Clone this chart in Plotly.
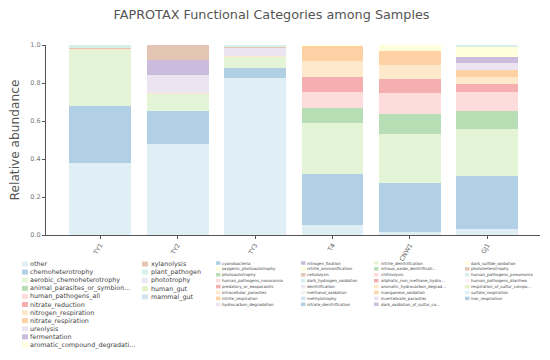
import plotly.graph_objects as go

samples = ["TY1", "TY2", "TY3", "T4", "CNW1", "GJ1"]

categories = [
    "other", "chemoheterotrophy", "aerobic_chemoheterotrophy", "animal_parasites_or_symbion...",
    "human_pathogens_all", "nitrate_reduction", "nitrogen_respiration", "nitrate_respiration",
    "ureolysis", "fermentation", "aromatic_compound_degradati...",
    "xylanolysis", "plant_pathogen", "phototrophy", "human_gut", "mammal_gut",
    "cyanobacteria", "oxygenic_photoautotrophy", "photoautotrophy", "human_pathogens_nosocomia",
    "predatory_or_exoparasitic", "intracellular_parasites", "nitrite_respiration", "hydrocarbon_degradation",
    "nitrogen_fixation", "nitrite_ammonification", "cellulolysis", "dark_hydrogen_oxidation",
    "denitrification", "methanol_oxidation", "methylotrophy", "nitrate_denitrification",
    "nitrite_denitrification", "nitrous_oxide_denitrificati...", "chitinolysis", "aliphatic_non_methane_hydro...",
    "aromatic_hydrocarbon_degrad...", "manganese_oxidation", "invertebrate_parasites", "dark_oxidation_of_sulfur_co...",
    "dark_sulfide_oxidation", "photoheterotrophy", "human_pathogens_pneumonia", "human_pathogens_diarrhea",
    "respiration_of_sulfur_compo...", "sulfate_respiration", "iron_respiration",
]

# relative abundance per sample, in category order (remaining categories are ~0)
TY1 = [0.380, 0.299, 0.298, 0, 0, 0, 0.003, 0, 0, 0, 0, 0.004, 0.016]
TY2 = [0.479, 0.174, 0.093, 0, 0, 0, 0.004, 0, 0.090, 0.081, 0, 0.079]
TY3 = [0.825, 0.056, 0.058, 0, 0, 0, 0.004, 0, 0.045, 0, 0, 0.002, 0.010]
T4 = [0.053, 0.266, 0.269, 0.080, 0.083, 0.082, 0.083, 0.080, 0, 0, 0.002]
CNW1 = [0.014, 0.258, 0.260, 0.107, 0.107, 0.073, 0.074, 0.074, 0, 0, 0.033]
GJ1 = [0.033, 0.278, 0.245, 0.098, 0.097, 0.044, 0.038, 0.037, 0.035, 0.030, 0.056, 0, 0.009]

sample_values = [TY1, TY2, TY3, T4, CNW1, GJ1]

base = ["#a6cee3", "#1f78b4", "#b2df8a", "#33a02c", "#fb9a99", "#e31a1c", "#fdbf6f", "#ff7f00",
        "#cab2d6", "#6a3d9a", "#ffff99", "#b15928",
        "#8dd3c7", "#bebada", "#b3de69", "#80b1d3",
        "#1f78b4", "#ffff99", "#33a02c", "#fb9a99", "#e31a1c", "#fdbf6f", "#ff7f00", "#cab2d6",
        "#6a3d9a", "#ffff99", "#b15928", "#8dd3c7", "#bebada", "#ccebc5", "#80b1d3", "#1f78b4",
        "#b2df8a", "#33a02c", "#fb9a99", "#e31a1c", "#fdbf6f", "#ff7f00", "#cab2d6", "#6a3d9a",
        "#ffff99", "#b15928", "#8dd3c7", "#fccde5", "#b3de69", "#a6cee3", "#1f78b4"]


def blend(h, a=0.35):
    r, g, b = int(h[1:3], 16), int(h[3:5], 16), int(h[5:7], 16)
    return "rgb(%d,%d,%d)" % tuple(round(255 - a * (255 - c)) for c in (r, g, b))


colors = [blend(c) for c in base]

fig = go.Figure()
for i, cat in enumerate(categories):
    vals = [sv[i] if i < len(sv) else 0 for sv in sample_values]
    fig.add_trace(go.Bar(x=samples, y=vals, name=cat, marker=dict(color=colors[i], line=dict(width=0)),
                         width=0.8, showlegend=False))

# page body has an 8px margin: figure is 542x352, drawn at (8, 8) in the window
OFF = 8
W, H = 550 - OFF, 360 - OFF
L, R, T, B = 46 - OFF, 10, 45 - OFF, 125
pw, ph = W - L - R, H - T - B


def px2paper(x, y):
    # x, y in window pixels
    return (x - OFF - L) / pw, (H - B - (y - OFF)) / ph


# manual legend: (first index, count, swatch x, text x, top y, row step, font size, swatch w, swatch h)
legend_cols = [
    (0, 11, 22, 29, 264, 8.1, 6.4, 6, 5),
    (11, 5, 142, 150, 264, 8.2, 6.4, 6, 5),
    (16, 8, 216, 221, 263, 5.9, 4.0, 4.5, 3.5),
    (24, 8, 301, 306, 263, 5.9, 4.0, 4.5, 3.5),
    (32, 8, 374, 380, 263, 5.9, 4.0, 4.5, 3.5),
    (40, 7, 465, 470, 263, 5.9, 4.0, 4.5, 3.5),
]
for start, n, sx, tx, ty, step, fs, sw, sh in legend_cols:
    for k in range(n):
        idx = start + k
        yc = ty + k * step
        x0, y0 = px2paper(sx, yc - sh / 2)
        x1, y1 = px2paper(sx + sw, yc + sh / 2)
        fig.add_shape(type="rect", xref="paper", yref="paper", x0=x0, x1=x1, y0=y1, y1=y0,
                      fillcolor=colors[idx], line=dict(width=0), layer="above")
        ax, ay = px2paper(tx, yc)
        fig.add_annotation(xref="paper", yref="paper", x=ax, y=ay, text=categories[idx],
                           showarrow=False, xanchor="left", yanchor="middle", align="left",
                           borderpad=0, opacity=0.99, font=dict(size=fs, color="#444444"))

fig.update_layout(
    width=W, height=H,
    margin=dict(l=L, r=R, t=T, b=B),
    barmode="stack",
    plot_bgcolor="white", paper_bgcolor="white",
    font=dict(family="DejaVu Sans", color="#555555"),
    title=dict(text="FAPROTAX Functional Categories among Samples", x=(271.5 - OFF) / W, xref="container",
               xanchor="center", y=1 - (15 - OFF) / H, yanchor="middle", font=dict(size=12.8, color="#555555")),
    xaxis=dict(range=[-0.7, 5.68], showline=True, linecolor="#555555", linewidth=1,
               ticks="outside", ticklen=3, tickcolor="#555555", tickangle=-60, automargin=False,
               tickfont=dict(size=6.3, color="#666666"), showgrid=False, zeroline=False),
    yaxis=dict(range=[0, 1.0], showline=True, linecolor="#555555", linewidth=1, automargin=False,
               ticks="outside", ticklen=3, tickcolor="#555555", dtick=0.2, tickformat=".1f",
               tickfont=dict(size=6.5, color="#777777"), showgrid=False, zeroline=False,
               title=dict(text="Relative abundance", font=dict(size=12.2, color="#555555"), standoff=12)),
)

fig.write_html("out.html", config={"displayModeBar": False})
